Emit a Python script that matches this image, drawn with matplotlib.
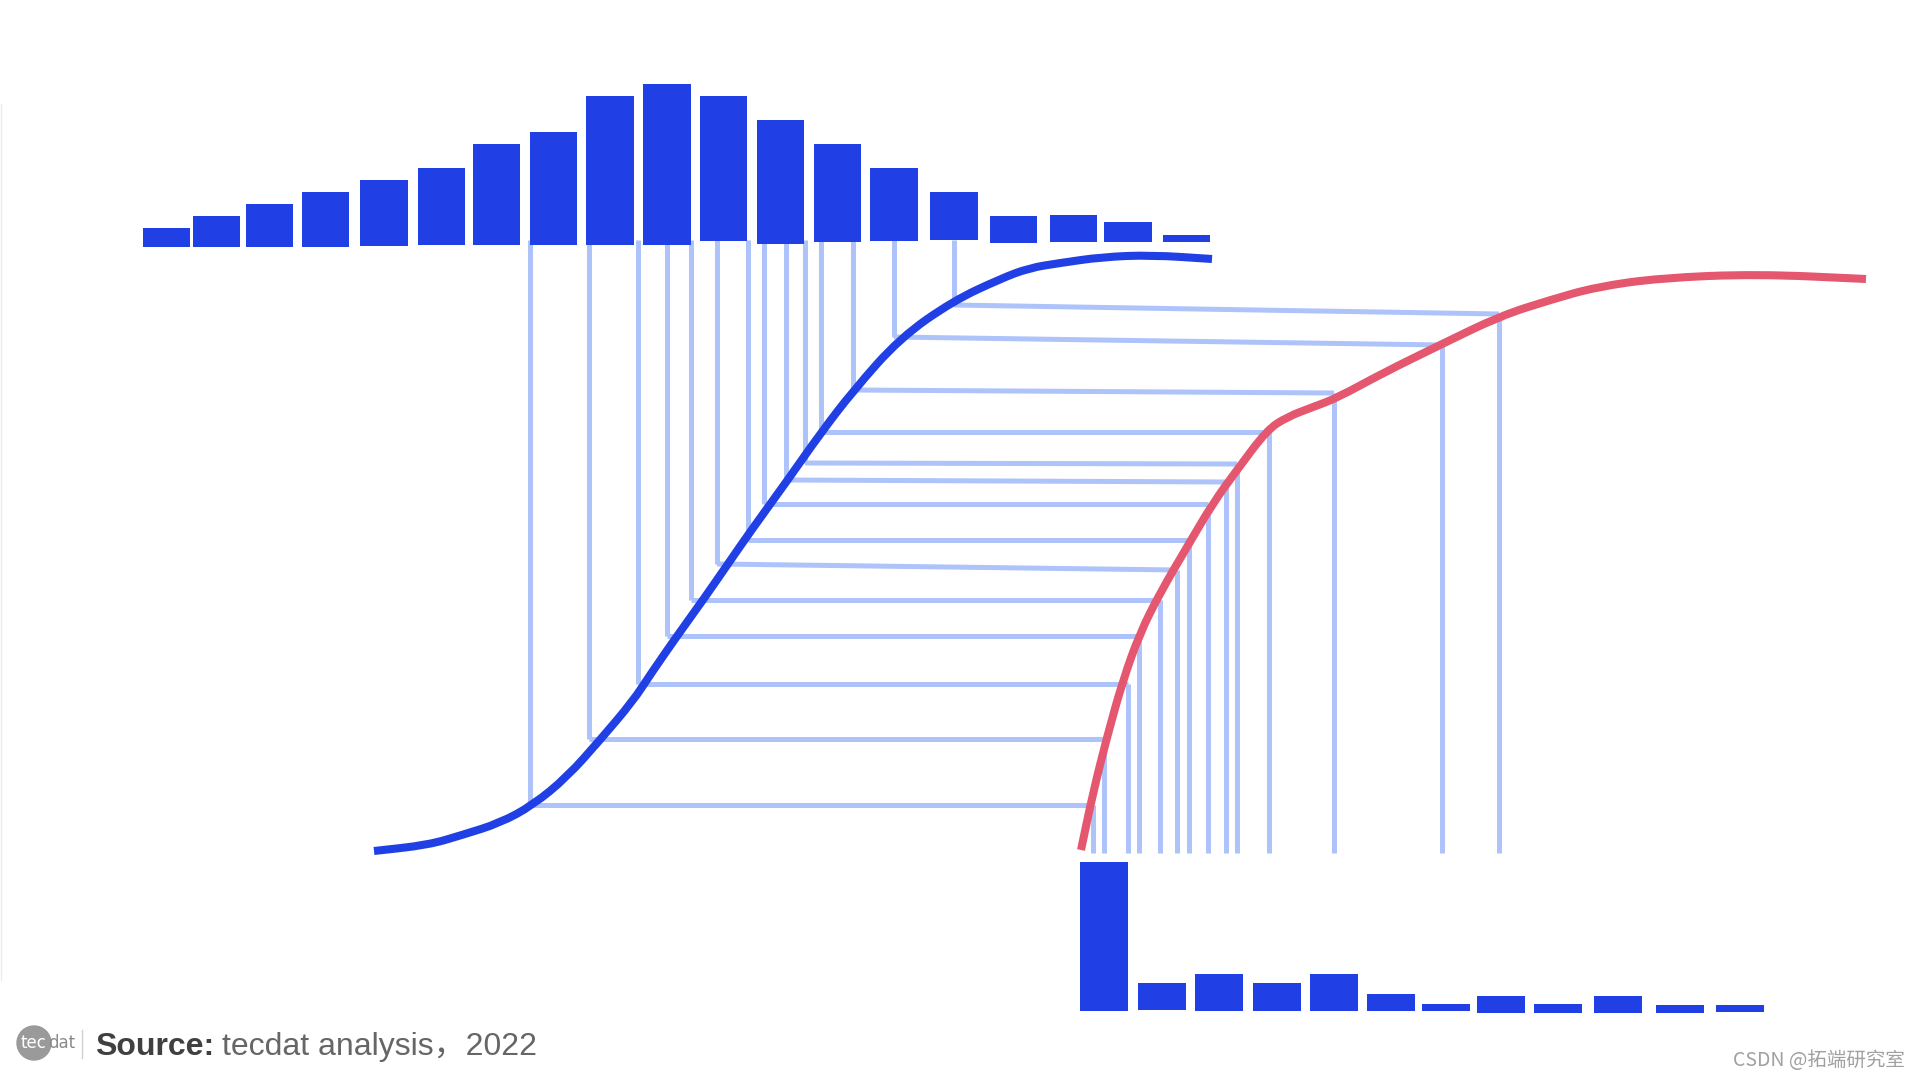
import numpy as np
import matplotlib
matplotlib.use("Agg")
import matplotlib.pyplot as plt
from matplotlib.patches import Circle, PathPatch
from matplotlib.path import Path

BLUE = "#2040E6"
RED = "#E5566F"
LIGHT = "#ADC3FA"

# ── data (canvas units = pixels, y grows downward) ──
# top histogram: source distribution (bin centre, bar height, baseline)
top_bin_x = [166.5, 216.7, 269.4, 325.7, 383.9, 441.4, 496.5, 553.5, 609.8,
             666.8, 723.7, 780.6, 837.6, 893.9, 953.9, 1013.3, 1073.3,
             1127.8, 1186.6]
top_freq = [19, 31, 43, 55, 66, 77, 101, 113, 149, 161, 145, 124, 98, 73,
            48, 27, 27, 20, 7]
top_base = [247, 247, 247, 247, 246, 245, 245, 245, 245, 245, 241, 244,
            242, 241, 240, 243, 242, 242, 242]

# bottom histogram: mapped distribution
bot_bin_x = [1104, 1161.5, 1219, 1276.5, 1334, 1390.5, 1446, 1500.5, 1558,
             1618, 1679.5, 1739.5]
bot_freq = [149, 27, 37, 28, 37, 17, 7, 17, 9, 17, 8, 7]
bot_base = [1011, 1010, 1011, 1011, 1011, 1011, 1011, 1013, 1013, 1013,
            1013, 1012]

# source CDF (blue)
src_x = [374, 428, 462, 500, 533, 567, 600, 633, 650, 677, 703, 730, 750,
         787, 820, 853, 900, 953, 1000, 1029, 1060, 1102, 1151, 1212]
src_y = [851, 845, 835, 823, 805, 777, 740, 701, 675, 636, 600, 561, 532,
         481, 434, 391, 338, 301, 279, 268, 263, 257, 255, 259]

# target CDF (red)
tgt_x = [1081, 1093, 1107, 1123, 1140, 1160, 1187, 1213, 1237, 1267, 1287,
         1313, 1337, 1383, 1440, 1500, 1550, 1596, 1660, 1757, 1866]
tgt_y = [850, 793, 737, 680, 633, 593, 547, 503, 470, 430, 417, 407, 398,
         373, 345, 316, 300, 287, 278, 274, 279]

# quantile mapping: source x -> level -> target x
q_src_x = [530, 589, 638, 667, 691, 717, 748, 764, 786, 805, 821, 853, 894, 954]
q_lvl_l = [805, 739, 684, 636, 600, 564, 540, 504, 480, 463, 432, 390, 337, 305]
q_lvl_r = [805, 739, 684, 636, 600, 570, 540, 504, 482, 464, 432, 393, 345, 314]
q_tgt_x = [1093, 1104, 1128, 1139, 1160, 1177, 1189, 1208, 1226, 1237, 1269,
           1334, 1442, 1499]


def smooth(xs, ys):
    # quadratic bezier through segment midpoints, points act as controls
    p = np.column_stack([xs, ys]).astype(float)
    mids = (p[:-1] + p[1:]) / 2
    verts = [p[0], mids[0]]
    codes = [Path.MOVETO, Path.LINETO]
    for i in range(1, len(p) - 1):
        verts += [p[i], mids[i]]
        codes += [Path.CURVE3, Path.CURVE3]
    verts.append(p[-1])
    codes.append(Path.LINETO)
    return Path(verts, codes)


fig = plt.figure(figsize=(19.2, 10.8), dpi=100)
ax = fig.add_axes([0, 0, 1, 1])
ax.set_xlim(0, 1920)
ax.set_ylim(1080, 0)
ax.axis("off")

# connector lines
lw_l = 3.6
for xs, yl, yr, xt in zip(q_src_x, q_lvl_l, q_lvl_r, q_tgt_x):
    ax.plot([xs, xs], [240, yl], color=LIGHT, lw=lw_l, zorder=1,
            solid_capstyle="butt")
    ax.plot([xs, xt], [yl, yr], color=LIGHT, lw=lw_l, zorder=1,
            solid_capstyle="butt")
    ax.plot([xt, xt], [yr, 853], color=LIGHT, lw=lw_l, zorder=1,
            solid_capstyle="butt")

# histograms
ax.bar(top_bin_x, -np.array(top_freq), bottom=top_base, width=47.5,
       color=BLUE, zorder=2)
ax.bar(bot_bin_x, -np.array(bot_freq), bottom=bot_base, width=48,
       color=BLUE, zorder=2)

# CDF curves
for xs, ys, c in [(src_x, src_y, BLUE), (tgt_x, tgt_y, RED)]:
    ax.add_patch(PathPatch(smooth(xs, ys), fill=False, ec=c, lw=5.8,
                           capstyle="butt", joinstyle="round", zorder=3))

# faint frame edge on the left
ax.plot([1, 1], [104, 980], color="#ececec", lw=1, zorder=0)

# source footer
ax.add_patch(Circle((34, 1043), 17, color="#9a9a9a", zorder=4))
ax.text(33, 1043, "tec", color="white", fontsize=12, ha="center",
        va="center", family="Liberation Sans Narrow", zorder=5)
ax.text(48, 1043, "dat", color="#8a8a8a", fontsize=12, ha="left",
        va="center", family="Liberation Sans Narrow", zorder=5)
ax.plot([82, 82], [1030, 1058], color="#d0d0d0", lw=1)
ax.text(95, 1055, "Source:", color="#404040", fontsize=23, fontweight="bold",
        family=["Liberation Sans", "Noto Sans CJK SC"], ha="left",
        va="baseline")
ax.text(222, 1055, "tecdat analysis，2022", color="#666666", fontsize=23,
        family=["Liberation Sans", "Noto Sans CJK SC"], ha="left",
        va="baseline")

# watermark
ax.text(1905, 1061, "CSDN @拓端研究室", color="#a0a0a0", fontsize=14,
        family=["Noto Sans CJK SC", "DejaVu Sans"], ha="right", va="center")

fig.savefig("out.png", dpi=100)
